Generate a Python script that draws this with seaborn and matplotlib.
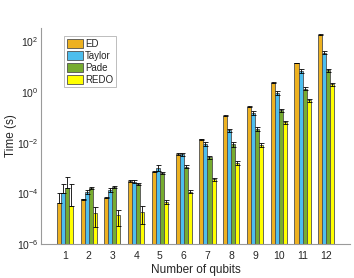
import numpy as np
import pandas as pd
import matplotlib
matplotlib.use('Agg')
import matplotlib.pyplot as plt
import seaborn as sns

# data (seconds)
qubits = [str(i) for i in range(1, 13)]
methods = ['ED', 'Taylor', 'Pade', 'REDO']

ed_time = [4.0e-5, 5.9e-5, 6.8e-5, 3.1e-4, 7.1e-4, 3.55e-3, 1.38e-2, 0.114, 0.26, 2.34, 13.8, 180]
taylor_time = [1.07e-4, 1.17e-4, 1.35e-4, 2.9e-4, 1.02e-3, 3.45e-3, 8.7e-3, 0.031, 0.149, 0.91, 6.7, 35]
pade_time = [1.7e-4, 1.6e-4, 1.74e-4, 2.35e-4, 6.2e-4, 1.12e-3, 2.6e-3, 8.8e-3, 0.036, 0.19, 1.36, 7.1]
redo_time = [3.1e-5, 1.66e-5, 1.38e-5, 1.9e-5, 4.7e-5, 1.17e-4, 3.7e-4, 1.6e-3, 8.0e-3, 0.063, 0.47, 2.0]

ed_err = [6.7e-5, 3e-6, 3e-6, 3e-5, 3e-5, 2e-4, 5e-4, 5e-3, 1e-2, 0.1, 0.5, 5]
taylor_err = [1.3e-4, 2e-5, 2.5e-5, 4e-5, 2.5e-4, 5e-4, 1.5e-3, 5e-3, 2.5e-2, 0.15, 1.0, 5]
pade_err = [2.9e-4, 1.5e-5, 1.5e-5, 2e-5, 6e-5, 1.5e-4, 4e-4, 2e-3, 6e-3, 0.03, 0.2, 1.0]
redo_err = [2e-4, 1.2e-5, 8.5e-6, 1.3e-5, 1e-5, 1.5e-5, 5e-5, 2.5e-4, 1.5e-3, 8e-3, 7e-2, 0.3]

colors = ['#EDB120', '#4DBEEE', '#77AC30', '#FFFF00']

times = [ed_time, taylor_time, pade_time, redo_time]
errs = [ed_err, taylor_err, pade_err, redo_err]

df = pd.DataFrame({
    'qubits': qubits * 4,
    'method': np.repeat(methods, len(qubits)),
    'time': np.concatenate(times),
    'err': np.concatenate(errs),
})

sns.set_style('white')
plt.rcParams['font.family'] = ['Liberation Sans', 'DejaVu Sans']

fig = plt.figure(figsize=(3.54, 2.78), dpi=100)
ax = fig.add_axes([0.116, 0.122, 0.873, 0.778])

sns.barplot(data=df, x='qubits', y='time', hue='method', order=qubits,
            hue_order=methods, palette=colors, width=0.68, errorbar=None,
            edgecolor='#505050', linewidth=0.6, saturation=1, ax=ax)
ax.set_yscale('log')

# error bars on top of every bar
for i, m in enumerate(methods):
    cont = ax.containers[i]
    xs = [p.get_x() + p.get_width() / 2 for p in cont.patches]
    val = np.array(times[i])
    e = np.array(errs[i])
    lower = np.where(e < val, e, 0)
    ax.errorbar(xs, val, yerr=[lower, e], fmt='none', ecolor='black',
                elinewidth=0.6, capsize=1.8, capthick=0.6, zorder=5)

ax.set_ylim(1e-6, 10 ** 2.53)
ax.set_xlim(-1, 12)
ax.set_yticks([1e-6, 1e-4, 1e-2, 1e0, 1e2])
ax.yaxis.set_minor_locator(matplotlib.ticker.NullLocator())
ax.set_xlabel('Number of qubits', fontsize=8.5, color='#262626', labelpad=2)
ax.set_ylabel('Time (s)', fontsize=8.5, color='#262626', labelpad=0)
ax.tick_params(axis='both', labelsize=7.5, colors='#262626', direction='in', length=2.5, width=0.6)
ax.tick_params(axis='x', length=0, pad=5)
ax.tick_params(axis='y', pad=2)

sns.despine(ax=ax)
for s in ['left', 'bottom']:
    ax.spines[s].set_color('#9a9a9a')
    ax.spines[s].set_linewidth(0.8)

leg = ax.legend(loc='upper left', bbox_to_anchor=(0.075, 0.96), fontsize=7,
                frameon=True, fancybox=False, borderpad=0.25, labelspacing=0.2,
                handlelength=1.7, handleheight=1.0, handletextpad=0.2,
                borderaxespad=0)
leg.get_frame().set_edgecolor('#a0a0a0')
leg.get_frame().set_linewidth(0.6)

fig.savefig('out.png', dpi=100)
